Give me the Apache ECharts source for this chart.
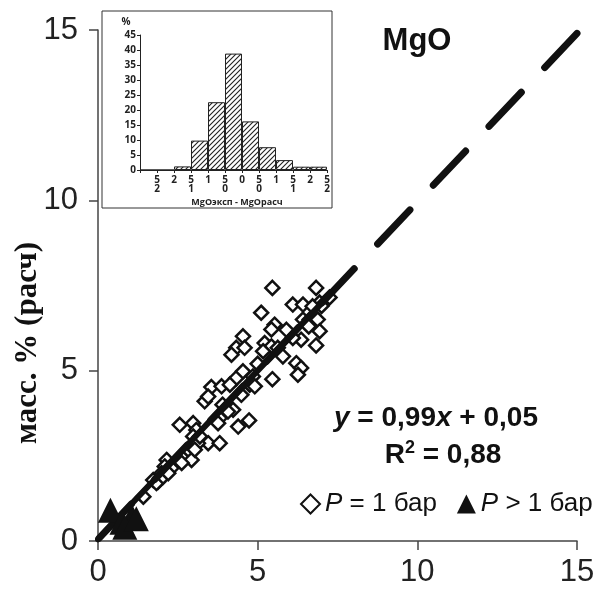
<!DOCTYPE html>
<html>
<head>
<meta charset="utf-8">
<script src="https://cdn.jsdelivr.net/npm/echarts@6/dist/echarts.min.js"></script>
<style>
html, body { margin: 0; padding: 0; background: #fff; }
#main { width: 598px; height: 593px; }
</style>
</head>
<body>
<div id="main"></div>
<script>
// точки P = 1 бар (эксп, расч)
var pointsP1 = [
    [5.46, 7.43], [6.83, 7.43], [6.10, 6.94], [6.42, 6.94], [6.94, 7.00], [7.25, 7.15],
    [5.11, 6.70], [5.53, 6.35], [5.43, 6.21], [6.42, 6.50], [6.63, 6.50], [6.88, 6.50],
    [6.94, 6.16], [6.36, 5.91], [6.10, 5.96], [6.83, 5.74], [4.54, 6.01], [4.33, 5.67],
    [4.59, 5.67], [4.18, 5.47], [5.22, 5.81], [5.43, 5.71], [5.17, 5.57], [5.63, 5.67],
    [5.79, 5.42], [6.21, 5.22], [6.36, 5.08], [6.26, 4.88], [5.46, 4.75], [4.33, 4.78],
    [4.54, 4.98], [4.85, 4.83], [4.75, 4.59], [4.91, 4.54], [3.55, 4.52], [3.87, 4.54],
    [4.13, 4.59], [3.34, 4.10], [3.45, 4.24], [4.49, 4.29], [4.23, 3.85], [4.39, 3.36],
    [4.73, 3.54], [4.07, 3.80], [3.81, 3.61], [3.76, 3.46], [2.56, 3.41], [2.98, 3.46],
    [3.08, 3.26], [3.45, 2.87], [3.81, 2.87], [2.98, 3.07], [3.13, 2.87], [3.19, 3.07],
    [2.15, 2.38], [2.67, 2.43], [2.88, 2.63], [2.93, 2.38], [3.03, 2.68], [2.09, 2.19],
    [2.30, 2.14], [2.62, 2.29], [1.73, 1.79], [1.88, 1.74], [1.99, 1.99], [1.42, 1.30],
    [1.83, 1.70], [2.04, 1.89], [2.20, 1.99], [5.90, 6.20], [6.60, 6.30], [7.00, 6.90],
    [5.00, 5.20], [3.90, 4.00], [6.72, 6.89]
];
// точки P > 1 бар
var pointsP2 = [[0.39, 0.90], [0.75, 0.55], [1.06, 0.72], [0.84, 0.40], [1.20, 0.65]];

// линия регрессии y = 0,99x + 0,05
var fitSlope = 0.99, fitIntercept = 0.05;
var fitSolidX = [0, 7.3];
var fitDashX = [15, 0];

var legendNames = ['P = 1 бар', 'P > 1 бар'];

// гистограмма (вставка)
var histBins = ['b1', 'b2', 'b3', 'b4', 'b5', 'b6', 'b7', 'b8', 'b9', 'b10', 'b11'];
var histValues = [0, 0, 1.2, 9.8, 22.6, 38.8, 16.2, 7.6, 3.3, 1.1, 1.1];
var histTickLabels = ['', '5\n2', '2', '5\n1', '1', '5\n0', '0', '5\n0', '1', '5\n1', '2', '5\n2'];

function fitLine(xs) {
    return xs.map(function (x) { return [x, fitSlope * x + fitIntercept]; });
}

//штриховка столбцов
function makeHatch() {
    var c = document.createElement('canvas');
    c.width = 5; c.height = 5;
    var ctx = c.getContext('2d');
    ctx.fillStyle = '#fff';
    ctx.fillRect(0, 0, 5, 5);
    ctx.strokeStyle = '#222';
    ctx.lineWidth = 1.1;
    ctx.beginPath();
    ctx.moveTo(-1, 6); ctx.lineTo(6, -1);
    ctx.moveTo(-1, 1); ctx.lineTo(1, -1);
    ctx.moveTo(4, 6); ctx.lineTo(6, 4);
    ctx.stroke();
    return c;
}

var myChart = echarts.init(document.getElementById('main'));
var axisColor = '#444';
var font = 'Liberation Sans, Arial, sans-serif';
var smallFont = 'Open Sans, sans-serif';

var option = {
    backgroundColor: '#fff',
    animation: false,
    grid: [
        { left: 98, right: 21, top: 30, bottom: 52 },
        { left: 140, right: 271, top: 35, bottom: 423 }
    ],
    xAxis: [{
        gridIndex: 0,
        type: 'value', min: 0, max: 15, interval: 5,
        axisLine: { lineStyle: { color: axisColor, width: 1.5 } },
        axisTick: { length: 9, lineStyle: { color: axisColor, width: 1.5 } },
        axisLabel: { fontSize: 31, color: '#222', margin: 16, fontFamily: font },
        splitLine: { show: false }
    }, {
        gridIndex: 1, position: 'bottom',
        type: 'category', data: histBins, show: false
    }, {
        gridIndex: 1, position: 'bottom',
        type: 'category', data: histTickLabels, boundaryGap: false,
        axisLine: { lineStyle: { color: '#222', width: 1 } },
        axisTick: { length: 3, lineStyle: { color: '#222' } },
        axisLabel: { interval: 0, fontSize: 10, fontWeight: 'bold', lineHeight: 9, color: '#222', margin: 6, fontFamily: smallFont }
    }],
    yAxis: [{
        gridIndex: 0,
        type: 'value', min: 0, max: 15, interval: 5,
        axisLine: { show: true, lineStyle: { color: axisColor, width: 1.5 } },
        axisTick: { show: true, length: 9, lineStyle: { color: axisColor, width: 1.5 } },
        axisLabel: { fontSize: 31, color: '#222', margin: 20, fontFamily: font },
        splitLine: { show: false }
    }, {
        gridIndex: 1,
        type: 'value', min: 0, max: 45, interval: 5,
        axisLine: { show: true, lineStyle: { color: '#222', width: 1 } },
        axisTick: { show: true, length: 3, lineStyle: { color: '#222' } },
        axisLabel: { fontSize: 10, fontWeight: 'bold', color: '#222', margin: 4, fontFamily: smallFont },
        splitLine: { show: false }
    }],
    legend: {
        left: 295, top: 486,
        itemGap: 20, itemWidth: 19, itemHeight: 19,
        data: [{ name: legendNames[0], icon: 'diamond' }, { name: legendNames[1], icon: 'triangle' }],
        formatter: function (n) { return '{i|P}' + n.slice(1); },
        textStyle: {
            fontSize: 26, color: '#111', fontFamily: font,
            rich: { i: { fontStyle: 'italic', fontSize: 26, color: '#111', fontFamily: font } }
        }
    },
    series: [{
        name: legendNames[0],
        type: 'scatter',
        xAxisIndex: 0, yAxisIndex: 0,
        symbol: 'diamond', symbolSize: 14,
        itemStyle: { color: '#fff', borderColor: '#111', borderWidth: 2.5, opacity: 1 },
        z: 2,
        data: pointsP1
    }, {
        type: 'line',
        xAxisIndex: 0, yAxisIndex: 0,
        symbol: 'none',
        lineStyle: { color: '#111', width: 6, cap: 'round' },
        z: 3,
        data: fitLine(fitSolidX)
    }, {
        type: 'line',
        xAxisIndex: 0, yAxisIndex: 0,
        symbol: 'none',
        lineStyle: { color: '#111', width: 7, type: [47, 34], cap: 'round' },
        z: 3,
        data: fitLine(fitDashX)
    }, {
        name: legendNames[1],
        type: 'scatter',
        xAxisIndex: 0, yAxisIndex: 0,
        symbol: 'triangle', symbolSize: 25,
        itemStyle: { color: '#111', opacity: 1 },
        z: 4,
        data: pointsP2
    }, {
        type: 'bar',
        xAxisIndex: 1, yAxisIndex: 1,
        barCategoryGap: '0%',
        itemStyle: {
            color: { image: makeHatch(), repeat: 'repeat' },
            borderColor: '#222', borderWidth: 1
        },
        data: histValues
    }],
    graphic: [{
        type: 'rect',
        shape: { x: 102, y: 11, width: 230, height: 197 },
        style: { fill: 'none', stroke: '#333', lineWidth: 1 },
        z: 1
    }, {
        type: 'text', x: 126, y: 22,
        style: { text: '%', fontSize: 10, fontWeight: 'bold', fill: '#222', fontFamily: smallFont, textAlign: 'center', textVerticalAlign: 'middle' }
    }, {
        type: 'text', x: 237, y: 202,
        style: { text: 'MgOэксп - MgOрасч', fontSize: 9, fontWeight: 'bold', fill: '#222', fontFamily: smallFont, textAlign: 'center', textVerticalAlign: 'middle' }
    }, {
        type: 'text', x: 417, y: 41,
        style: { text: 'MgO', fontSize: 31, fontWeight: 'bold', fill: '#111', fontFamily: font, textAlign: 'center', textVerticalAlign: 'middle' }
    }, {
        type: 'text', x: 28, y: 343, rotation: Math.PI / 2,
        style: { text: 'масс. % (расч)', fontSize: 31, fontWeight: 'bold', fill: '#111', fontFamily: 'Liberation Serif, Times New Roman, serif', textAlign: 'center', textVerticalAlign: 'middle' }
    }, {
        type: 'text', x: 436, y: 418,
        style: {
            text: '{i|y} = 0,99{i|x} + 0,05',
            fontSize: 28, fontWeight: 'bold', fill: '#111', fontFamily: font,
            textAlign: 'center', textVerticalAlign: 'middle',
            rich: { i: { fontSize: 28, fontWeight: 'bold', fontStyle: 'italic', fill: '#111', fontFamily: font } }
        }
    }, {
        type: 'text', x: 443, y: 455,
        style: {
            text: '{b|R}{s|2}{b| = 0,88}',
            fontSize: 28, fontWeight: 'bold', fill: '#111', fontFamily: font,
            textAlign: 'center', textVerticalAlign: 'middle',
            rich: {
                b: { fontSize: 28, fontWeight: 'bold', fill: '#111', fontFamily: font, lineHeight: 32 },
                s: { fontSize: 18, fontWeight: 'bold', fill: '#111', fontFamily: font, verticalAlign: 'top', lineHeight: 32 }
            }
        }
    }]
};

myChart.setOption(option);
</script>
</body>
</html>
